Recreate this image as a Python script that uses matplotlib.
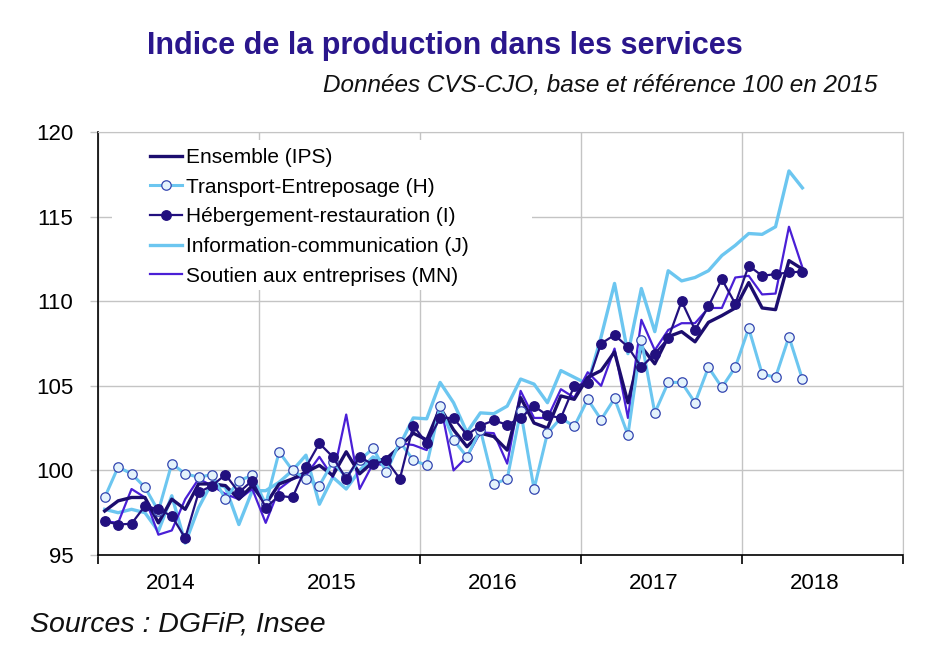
import numpy as np
import matplotlib
matplotlib.use("Agg")
import matplotlib.pyplot as plt
from matplotlib.patches import Rectangle

plt.rcParams["font.family"] = ["Liberation Sans", "DejaVu Sans"]

# monthly values, Jan 2014 -> May 2018
YEARS = ["2014", "2015", "2016", "2017", "2018"]

ensemble = [97.6, 98.2, 98.4, 98.4, 96.9, 98.3, 97.7, 99.2, 99.2, 99.1, 98.3, 99.1,
            98.0, 99.2, 99.5, 99.9, 100.3, 99.7, 101.1, 99.8, 100.5, 100.7, 101.4, 102.2,
            101.8, 103.7, 102.4, 101.4, 102.2, 102.0, 101.2, 104.3, 102.8, 102.5, 104.4, 104.2,
            105.5, 105.9, 107.0, 104.0, 107.3, 106.3, 107.9, 108.2, 107.6, 108.75, 109.15, 109.6,
            111.1, 109.6, 109.5, 112.4, 111.9]

transport = [98.4, 100.2, 99.8, 99.0, 97.6, 100.4, 99.8, 99.6, 99.75, 98.3, 99.4, 99.7,
             98.0, 101.1, 100.0, 99.5, 99.1, 100.5, 99.6, 100.6, 101.3, 99.9, 101.7, 100.6,
             100.3, 103.8, 101.8, 100.8, 102.4, 99.2, 99.5, 103.5, 98.9, 102.2, 103.1, 102.6,
             104.2, 103.0, 104.25, 102.1, 107.7, 103.4, 105.2, 105.2, 104.0, 106.1, 104.9, 106.1,
             108.4, 105.7, 105.5, 107.9, 105.4]

hebergement = [97.0, 96.8, 96.85, 97.9, 97.7, 97.3, 96.0, 98.7, 99.1, 99.75, 98.7, 99.4,
               97.8, 98.5, 98.4, 100.2, 101.6, 100.8, 99.5, 100.8, 100.35, 100.6, 99.5, 102.65,
               101.6, 103.1, 103.1, 102.1, 102.65, 102.95, 102.7, 103.1, 103.8, 103.25, 103.1, 105.0,
               105.15, 107.5, 108.0, 107.3, 106.1, 106.9, 107.8, 110.0, 108.3, 109.7, 111.3, 109.85,
               112.1, 111.5, 111.6, 111.7, 111.75]

info_com = [97.7, 97.5, 97.7, 97.5, 96.4, 98.5, 95.7, 97.8, 99.3, 99.0, 96.8, 98.8,
            98.8, 99.3, 100.0, 100.9, 98.0, 99.6, 98.9, 100.0, 100.8, 100.4, 101.5, 103.1,
            103.05, 105.2, 104.0, 102.25, 103.4, 103.35, 103.8, 105.4, 105.1, 104.0, 105.9, 105.5,
            105.1, 107.9, 111.05, 106.9, 110.75, 108.2, 111.8, 111.2, 111.4, 111.8, 112.7, 113.3,
            114.0, 113.95, 114.4, 117.7, 116.7]

soutien = [97.0, 96.9, 98.9, 98.4, 96.2, 96.45, 98.3, 99.5, 99.1, 98.6, 98.3, 98.9,
           96.9, 98.9, 99.5, 99.7, 100.8, 99.6, 103.3, 98.9, 100.4, 100.3, 101.6, 101.5,
           101.2, 104.0, 100.0, 100.8, 102.25, 102.2, 100.4, 104.7, 103.1, 103.1, 104.8, 104.3,
           105.8, 105.0, 107.2, 103.1, 108.9, 107.1, 108.3, 108.7, 108.7, 109.6, 109.6, 111.4,
           111.5, 110.4, 110.45, 114.4, 112.0]

NAVY = "#1c0d6e"
DOTS = "#22107f"
PURPLE = "#4a1fd6"
LIGHT = "#6cc6f0"
GRID = "#c4c4c4"

x = np.arange(len(ensemble)) + 0.5

fig = plt.figure(figsize=(9.44, 6.52), dpi=100)
ax = fig.add_axes([98 / 944, 1 - 555 / 652, 805 / 944, 423 / 652])

ax.plot(x, ensemble, color=NAVY, lw=2.4, label="Ensemble (IPS)", zorder=4)
ax.plot(x, transport, color=LIGHT, lw=2.2, marker="o", ms=6.8, mfc="#e4f3fc",
        mec="#3346b0", mew=0.9, label="Transport-Entreposage (H)", zorder=5)
ax.plot(x, hebergement, color=DOTS, lw=1.6, marker="o", ms=6.8, mfc=DOTS,
        mec=DOTS, label="Hébergement-restauration (I)", zorder=6)
ax.plot(x, info_com, color=LIGHT, lw=2.4, label="Information-communication (J)", zorder=2)
ax.plot(x, soutien, color=PURPLE, lw=1.6, label="Soutien aux entreprises (MN)", zorder=3)

ax.set_xlim(0, 60)
ax.set_ylim(95, 120)
ax.set_yticks([95, 100, 105, 110, 115, 120])
ax.set_xticks(np.arange(0, 61, 12))
ax.set_xticklabels([])
ax.set_xticks(np.arange(5.4, 60, 12), minor=True)
ax.set_xticklabels(YEARS, minor=True)
ax.tick_params(axis="x", which="minor", length=0, labelsize=16, pad=13)
ax.tick_params(axis="x", which="major", length=6.5, width=1.2, direction="out")
ax.tick_params(axis="y", length=5.8, width=1, color=GRID, labelsize=16, pad=12)

ax.grid(True, which="major", color=GRID, lw=1)
ax.set_axisbelow(True)
for side in ["top", "right"]:
    ax.spines[side].set_color(GRID)
ax.spines["left"].set_linewidth(1.2)
ax.spines["bottom"].set_linewidth(1.2)

# white block behind the legend, hiding the grid
ax.add_patch(Rectangle((14 / 805, 265 / 423), 420 / 805, 150 / 423,
                       transform=ax.transAxes, facecolor="white",
                       edgecolor="none", zorder=1))
leg = ax.legend(loc="upper left", bbox_to_anchor=(0.0646, 0.962), fontsize=15,
                frameon=False, handlelength=1.55, handletextpad=0.2,
                labelspacing=0.51, borderpad=0, borderaxespad=0)

fig.text(0.4714, 0.93, "Indice de la production dans les services", ha="center",
         va="center", fontsize=22, fontweight="bold", color="#2a168c")
fig.text(0.93, 0.869, "Données CVS-CJO, base et référence 100 en 2015", ha="right",
         va="center", fontsize=17.5, style="italic", color="#111111")
fig.text(0.032, 0.042, "Sources : DGFiP, Insee", ha="left", va="center",
         fontsize=20.5, style="italic", color="#111111")

fig.savefig("out.png", dpi=100)
